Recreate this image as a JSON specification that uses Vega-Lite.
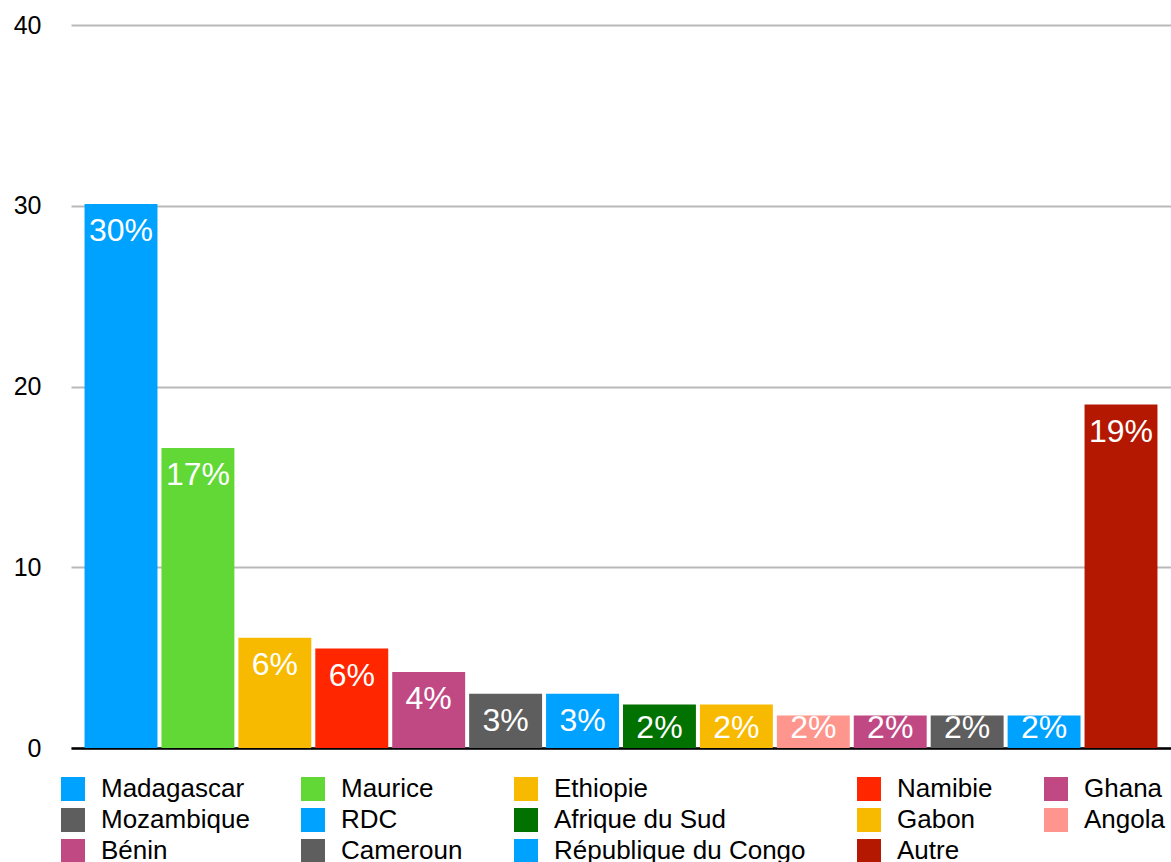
{
  "$schema": "https://vega.github.io/schema/vega-lite/v6.json",
  "width": 1100,
  "height": 723,
  "autosize": {"type": "none"},
  "padding": {"left": 71, "top": 25, "right": 0, "bottom": 114},
  "background": "white",
  "config": {
    "font": "Liberation Sans",
    "view": {"stroke": null}
  },
  "data": {
    "values": [
      {"pays": "Madagascar", "valeur": 30.1, "label": "30%"},
      {"pays": "Maurice", "valeur": 16.6, "label": "17%"},
      {"pays": "Ethiopie", "valeur": 6.1, "label": "6%"},
      {"pays": "Namibie", "valeur": 5.5, "label": "6%"},
      {"pays": "Ghana", "valeur": 4.2, "label": "4%"},
      {"pays": "Mozambique", "valeur": 3.0, "label": "3%"},
      {"pays": "RDC", "valeur": 3.0, "label": "3%"},
      {"pays": "Afrique du Sud", "valeur": 2.4, "label": "2%"},
      {"pays": "Gabon", "valeur": 2.4, "label": "2%"},
      {"pays": "Angola", "valeur": 1.8, "label": "2%"},
      {"pays": "Bénin", "valeur": 1.8, "label": "2%"},
      {"pays": "Cameroun", "valeur": 1.8, "label": "2%"},
      {"pays": "République du Congo", "valeur": 1.8, "label": "2%"},
      {"pays": "Autre", "valeur": 19.0, "label": "19%"}
    ]
  },
  "encoding": {
    "x": {
      "field": "pays",
      "type": "nominal",
      "sort": null,
      "scale": {"paddingInner": 0.052, "paddingOuter": 0.176},
      "axis": {
        "title": null,
        "labels": false,
        "ticks": false,
        "domainColor": "#000000",
        "domainWidth": 2.5
      }
    }
  },
  "layer": [
    {
      "mark": {"type": "bar"},
      "encoding": {
        "y": {
          "field": "valeur",
          "type": "quantitative",
          "scale": {"domain": [0, 40]},
          "axis": {
            "title": null,
            "values": [0, 10, 20, 30, 40],
            "domain": false,
            "ticks": false,
            "labelFontSize": 25,
            "labelColor": "#000000",
            "labelPadding": 30,
            "gridColor": "#b9b9b9",
            "gridWidth": 2
          }
        },
        "color": {
          "field": "pays",
          "type": "nominal",
          "scale": {
            "domain": ["Madagascar", "Maurice", "Ethiopie", "Namibie", "Ghana", "Mozambique", "RDC", "Afrique du Sud", "Gabon", "Angola", "Bénin", "Cameroun", "République du Congo", "Autre"],
            "range": ["#00A2FF", "#61D836", "#F8BA00", "#FF2600", "#C04984", "#5E5E5E", "#00A2FF", "#017100", "#F8BA00", "#FF968D", "#C04984", "#5E5E5E", "#00A2FF", "#B51800"]
          },
          "legend": {
            "title": null,
            "orient": "none",
            "legendX": -11,
            "legendY": 751,
            "direction": "horizontal",
            "columns": 5,
            "gridAlign": "each",
            "columnPadding": 50,
            "rowPadding": 5,
            "symbolType": "square",
            "symbolSize": 576,
            "symbolStrokeWidth": 0,
            "symbolOpacity": 1,
            "labelFontSize": 26,
            "labelColor": "#000000",
            "labelOffset": 15,
            "labelLimit": 400
          }
        }
      }
    },
    {
      "transform": [{"filter": "datum.valeur >= 2.5"}],
      "mark": {"type": "text", "color": "white", "fontSize": 32, "baseline": "middle", "dy": 27},
      "encoding": {
        "y": {"field": "valeur", "type": "quantitative"},
        "text": {"field": "label"}
      }
    },
    {
      "transform": [{"filter": "datum.valeur < 2.5"}],
      "mark": {"type": "text", "color": "white", "fontSize": 32, "baseline": "middle", "dy": -20},
      "encoding": {
        "y": {"datum": 0, "type": "quantitative"},
        "text": {"field": "label"}
      }
    }
  ]
}
